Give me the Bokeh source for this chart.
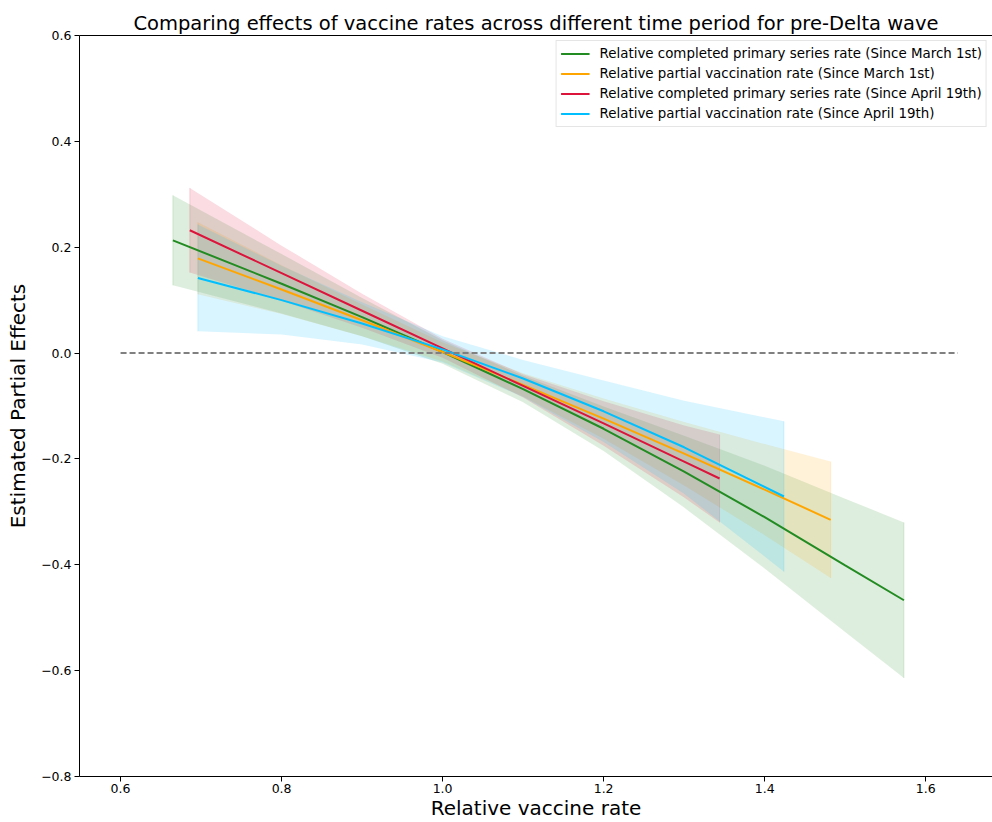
from bokeh.plotting import figure
from bokeh.models import Range1d, LinearAxis, FixedTicker
from bokeh.embed import file_html
from bokeh.resources import INLINE

# ---- data ----
labels = [
    "Relative completed primary series rate (Since March 1st)",
    "Relative partial vaccination rate (Since March 1st)",
    "Relative completed primary series rate (Since April 19th)",
    "Relative partial vaccination rate (Since April 19th)",
]
colors = ["#228B22", "#FFA500", "#DC143C", "#00BFFF"]

x_full_mar = [0.665, 0.8, 0.9, 1.0, 1.1, 1.2, 1.3, 1.4, 1.5, 1.573]
y_full_mar = [0.213, 0.131, 0.068, 0.002, -0.068, -0.143, -0.224, -0.310, -0.401, -0.467]
hi_full_mar = [0.298, 0.187, 0.104, 0.024, -0.043, -0.101, -0.156, -0.213, -0.275, -0.320]
lo_full_mar = [0.128, 0.075, 0.032, -0.020, -0.093, -0.185, -0.292, -0.407, -0.527, -0.614]

x_part_mar = [0.696, 0.8, 0.9, 1.0, 1.1, 1.2, 1.3, 1.4, 1.482]
y_part_mar = [0.179, 0.120, 0.062, 0.002, -0.060, -0.124, -0.190, -0.258, -0.315]
hi_part_mar = [0.247, 0.166, 0.092, 0.020, -0.038, -0.086, -0.130, -0.172, -0.205]
lo_part_mar = [0.111, 0.074, 0.032, -0.016, -0.082, -0.162, -0.250, -0.344, -0.425]

x_full_apr = [0.686, 0.8, 0.9, 1.0, 1.1, 1.2, 1.3, 1.344]
y_full_apr = [0.232, 0.151, 0.080, 0.009, -0.062, -0.133, -0.205, -0.237]
hi_full_apr = [0.312, 0.203, 0.112, 0.027, -0.040, -0.091, -0.137, -0.154]
lo_full_apr = [0.152, 0.099, 0.048, -0.009, -0.084, -0.175, -0.273, -0.320]

x_part_apr = [0.696, 0.8, 0.9, 1.0, 1.1, 1.2, 1.3, 1.424]
y_part_apr = [0.142, 0.100, 0.056, 0.007, -0.048, -0.110, -0.178, -0.271]
hi_part_apr = [0.243, 0.165, 0.096, 0.032, -0.013, -0.052, -0.090, -0.129]
lo_part_apr = [0.041, 0.035, 0.016, -0.018, -0.083, -0.168, -0.266, -0.413]

zero_x = [0.6, 1.64]
zero_y = [0.0, 0.0]

x_ticks = [0.6, 0.8, 1.0, 1.2, 1.4, 1.6]
y_ticks = [-0.8, -0.6, -0.4, -0.2, 0.0, 0.2, 0.4, 0.6]

series = [
    (x_full_mar, y_full_mar, lo_full_mar, hi_full_mar),
    (x_part_mar, y_part_mar, lo_part_mar, hi_part_mar),
    (x_full_apr, y_full_apr, lo_full_apr, hi_full_apr),
    (x_part_apr, y_part_apr, lo_part_apr, hi_part_apr),
]

FONT = "DejaVu Sans"

p = figure(width=992, height=822,
           x_range=Range1d(0.549, 1.683), y_range=Range1d(-0.8, 0.6),
           output_backend="svg", toolbar_location=None,
           min_border_left=79, min_border_right=0,
           min_border_top=35, min_border_bottom=46)

p.background_fill_color = "white"
p.border_fill_color = "white"
p.outline_line_color = None
p.xgrid.visible = False
p.ygrid.visible = False

p.title.text = "Comparing effects of vaccine rates across different time period for pre-Delta wave"
p.title.text_font = FONT
p.title.text_font_size = "19.5px"
p.title.text_font_style = "normal"
p.title.text_color = "black"
p.title.align = "center"
p.title.standoff = 2

# bands
for (xs, ys, lo, hi), c in zip(series, colors):
    p.varea(x=xs, y1=lo, y2=hi, fill_color=c, fill_alpha=0.15)
    p.line(x=[xs[0], xs[0]], y=[lo[0], hi[0]], line_color=c, line_alpha=0.15, line_width=1)
    p.line(x=[xs[-1], xs[-1]], y=[lo[-1], hi[-1]], line_color=c, line_alpha=0.15, line_width=1)

# lines
for (xs, ys, lo, hi), c, lab in zip(series, colors, labels):
    p.line(x=xs, y=ys, line_color=c, line_width=2, legend_label=lab)

p.line(x=zero_x, y=zero_y, line_color="gray", line_width=2, line_dash="6 3")

# axes
for ax in (p.xaxis[0], p.yaxis[0]):
    ax.axis_line_color = "black"
    ax.major_tick_line_color = "black"
    ax.major_tick_out = 5
    ax.major_tick_in = 0
    ax.minor_tick_out = 0
    ax.minor_tick_in = 0
    ax.major_label_text_font = FONT
    ax.major_label_text_font_size = "12.5px"
    ax.major_label_text_color = "black"
    ax.axis_label_text_font = FONT
    ax.axis_label_text_font_size = "20px"
    ax.axis_label_text_font_style = "normal"
    ax.axis_label_text_color = "black"

p.xaxis.ticker = FixedTicker(ticks=x_ticks)
p.yaxis.ticker = FixedTicker(ticks=y_ticks)
p.xaxis.major_label_overrides = {t: f"{t:.1f}" for t in x_ticks}
p.yaxis.major_label_overrides = {t: f"{t:.1f}".replace("-", "\u2212") for t in y_ticks}
p.xaxis.axis_label = "Relative vaccine rate"
p.yaxis.axis_label = "Estimated Partial Effects"
p.xaxis.major_label_standoff = 2
p.xaxis.axis_label_standoff = 0
p.yaxis.major_label_standoff = 3
p.yaxis.axis_label_standoff = 8

top = LinearAxis(ticker=FixedTicker(ticks=[]), major_label_text_font_size="0px",
                 axis_line_color="black", major_tick_out=0, major_tick_in=0,
                 minor_tick_out=0, minor_tick_in=0)
p.add_layout(top, "above")

lg = p.legend[0]
lg.location = "top_right"
lg.margin = 5
lg.padding = 4
lg.spacing = 3
lg.label_height = 17
lg.glyph_height = 17
lg.glyph_width = 29
lg.label_standoff = 10
lg.label_text_font = FONT
lg.label_text_font_size = "13.4px"
lg.label_text_color = "black"
lg.border_line_color = "#cccccc"
lg.border_line_width = 1
lg.background_fill_alpha = 0.8

open("out.html", "w").write(file_html(p, INLINE))
